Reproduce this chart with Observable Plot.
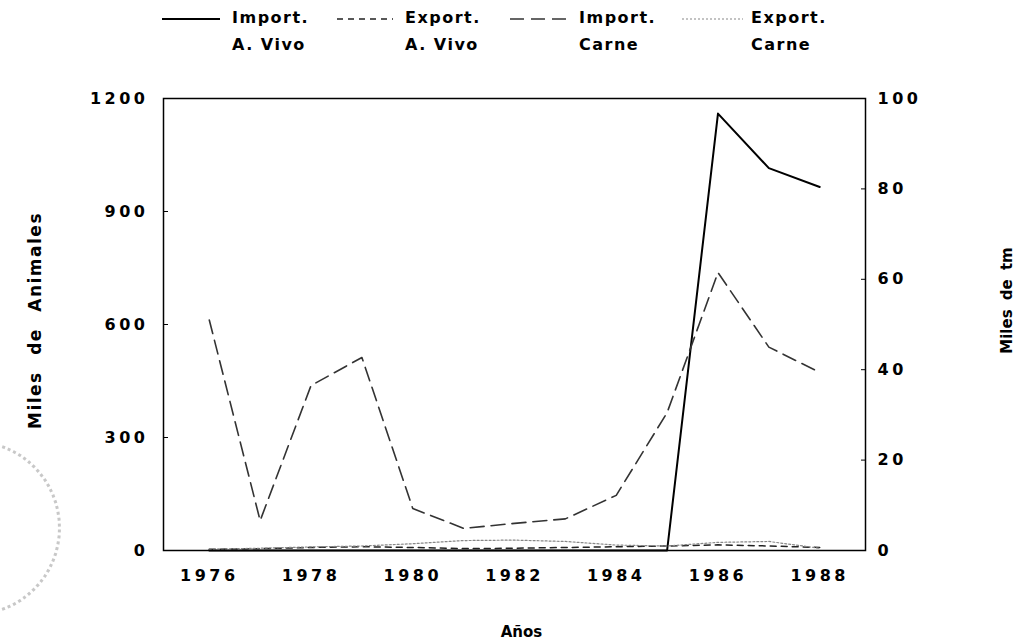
<!DOCTYPE html>
<html>
<head>
<meta charset="utf-8">
<script src="https://cdn.jsdelivr.net/npm/d3@7"></script>
<script src="https://cdn.jsdelivr.net/npm/@observablehq/plot@0.6"></script>
<style>
  html, body { margin: 0; padding: 0; background: #fff; overflow: hidden; }
  body { width: 1026px; height: 644px; position: relative; font-family: "DejaVu Sans", sans-serif; font-weight: bold; color: #000; }
  #legend { position: relative; width: 1026px; height: 60px; }
  .lg-text { position: absolute; font-size: 16px; letter-spacing: 1.5px; line-height: 27px; white-space: nowrap; top: 4px; }
  .lg-swatch { position: absolute; top: 16px; }
  #chart svg { display: block; }
  #stamp { position: absolute; left: -115px; top: 440px; width: 176px; height: 176px; border-radius: 50%; border: 3px dotted #c8c8c8; box-sizing: border-box; }
</style>
</head>
<body>
<div id="stamp"></div>
<div id="legend"></div>
<div id="chart"></div>
<script>
// ---- data ----
const years = [1976, 1977, 1978, 1979, 1980, 1981, 1982, 1983, 1984, 1985, 1986, 1987, 1988];
// Miles de animales (left axis)
const importVivo = [0, 0, 0, 0, 0, 0, 0, 0, 0, 0, 1160, 1015, 965];
const exportVivo = [3, 5, 8, 10, 8, 5, 6, 8, 10, 12, 15, 12, 8];
// Miles de tm (right axis)
const importCarne = [51, 6.6, 36.5, 42.7, 9.3, 4.9, 6, 7, 12.2, 30.5, 61.5, 45, 39.4];
const exportCarne = [0.3, 0.5, 0.8, 1.0, 1.5, 2.2, 2.3, 2.0, 1.2, 1.0, 1.8, 2.0, 0.5];

const seriesNames = ["Import.\nA. Vivo", "Export.\nA. Vivo", "Import.\nCarne", "Export.\nCarne"];
const leftTicks = [0, 300, 600, 900, 1200];
const rightTicks = [0, 20, 40, 60, 80, 100];
const xTicks = [1976, 1978, 1980, 1982, 1984, 1986, 1988];

const leftMax = 1200, rightMax = 100;
const k = leftMax / rightMax;

const styles = [
  { stroke: "#000", strokeWidth: 2, dash: null },
  { stroke: "#222", strokeWidth: 1.5, dash: "6,5" },
  { stroke: "#333", strokeWidth: 1.6, dash: "14,7" },
  { stroke: "#888", strokeWidth: 1.2, dash: "2,2" }
];

const rows = [];
years.forEach((yr, i) => {
  rows.push({ year: yr, s: 0, v: importVivo[i] });
  rows.push({ year: yr, s: 1, v: exportVivo[i] });
  rows.push({ year: yr, s: 2, v: importCarne[i] * k });
  rows.push({ year: yr, s: 3, v: exportCarne[i] * k });
});

// ---- legend ----
const legend = document.getElementById("legend");
const legendPos = [[162, 220, 232], [337, 393, 405], [510, 571, 579], [682, 743, 751]];
seriesNames.forEach((name, i) => {
  const [x0, x1, tx] = legendPos[i];
  const st = styles[i];
  const sw = document.createElementNS("http://www.w3.org/2000/svg", "svg");
  sw.setAttribute("class", "lg-swatch");
  sw.setAttribute("width", x1 - x0);
  sw.setAttribute("height", 6);
  sw.style.left = x0 + "px";
  const ln = document.createElementNS("http://www.w3.org/2000/svg", "line");
  ln.setAttribute("x1", 0); ln.setAttribute("x2", x1 - x0);
  ln.setAttribute("y1", 3); ln.setAttribute("y2", 3);
  ln.setAttribute("stroke", st.stroke);
  ln.setAttribute("stroke-width", st.strokeWidth);
  if (st.dash) ln.setAttribute("stroke-dasharray", st.dash);
  sw.appendChild(ln);
  legend.appendChild(sw);
  const t = document.createElement("div");
  t.className = "lg-text";
  t.style.left = tx + "px";
  t.innerHTML = name.split("\n").join("<br>");
  legend.appendChild(t);
});

// ---- chart ----
const fontCss = { fontFamily: "DejaVu Sans, sans-serif", fontWeight: "bold", fontSize: "16px", letterSpacing: "3.5px", color: "#000", background: "transparent", overflow: "visible" };

const lineMarks = styles.map((st, i) =>
  Plot.line(rows.filter(d => d.s === i), {
    x: "year", y: "v",
    stroke: st.stroke, strokeWidth: st.strokeWidth,
    strokeDasharray: st.dash || undefined,
    strokeLinejoin: "round"
  })
);

const chart = Plot.plot({
  width: 1026,
  height: 584,
  marginLeft: 163,
  marginRight: 161,
  marginTop: 38,
  marginBottom: 94,
  style: fontCss,
  x: { domain: [1975.1, 1988.9] },
  y: { domain: [0, leftMax] },
  marks: [
    ...lineMarks,
    Plot.frame({ stroke: "#000", strokeWidth: 1.5 }),
    Plot.axisY({ anchor: "left", ticks: leftTicks, tickSize: -5, tickPadding: 20, label: null, tickFormat: d => String(d) }),
    Plot.axisY({ anchor: "right", ticks: rightTicks.map(v => v * k), tickSize: -5, tickPadding: 17, label: null, tickFormat: d => String(Math.round(d / k)) }),
    Plot.axisX({ anchor: "bottom", ticks: xTicks, tickSize: 0, tickPadding: 19, label: null, tickFormat: d => String(d) }),
    Plot.text(["Miles de Animales"], { frameAnchor: "left", dx: -128, dy: -4, rotate: -90, fontSize: 17, fontWeight: "bold", textAnchor: "middle", lineAnchor: "middle", text: d => d, style: { letterSpacing: "1.5px", wordSpacing: "9px" } }),
    Plot.text(["Miles de tm"], { frameAnchor: "right", dx: 142, dy: -24, rotate: -90, fontSize: 15, fontWeight: "bold", textAnchor: "middle", lineAnchor: "middle", text: d => d }),
    Plot.text(["Años"], { frameAnchor: "bottom", dx: 7, dy: 82, fontSize: 15, fontWeight: "bold", textAnchor: "middle", lineAnchor: "middle", text: d => d })
  ]
});
// axis-label text spacing tweaks (letter-spacing for rotated labels)
chart.querySelectorAll("text").forEach(t => {
  const s = t.textContent;
  if (s === "Miles de Animales") { t.style.letterSpacing = "1.5px"; t.style.wordSpacing = "9px"; }
  if (s === "Miles de tm" || s === "Años") { t.style.letterSpacing = "0px"; t.style.wordSpacing = "4px"; }
});
document.getElementById("chart").appendChild(chart);
</script>
</body>
</html>
